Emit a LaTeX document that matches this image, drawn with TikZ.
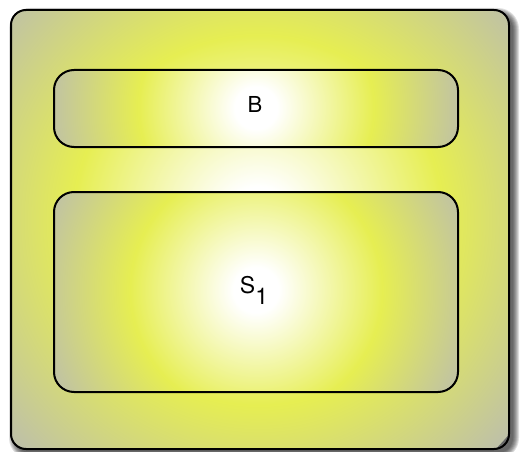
\documentclass[tikz,border=0pt]{standalone}
\usepackage{fontspec}
\setmainfont{TeX Gyre Heros}

\definecolor{glowgray}{RGB}{190,192,168}
\definecolor{glowyellow}{RGB}{230,238,82}
\pgfdeclareradialshading{glow}{\pgfpoint{0bp}{0bp}}{color(0bp)=(white); color(2.5bp)=(white); color(14bp)=(glowyellow); color(25bp)=(glowgray); color(50bp)=(glowgray)}

\tikzset{
  boxline/.style={line width=2pt, black},
  label/.style={anchor=base, inner sep=0pt}
}

\begin{document}
\begin{tikzpicture}[x=1pt, y=-1pt]
  \useasboundingbox (0,0) rectangle (520,452);

  % Shadow
  \foreach \k in {0,...,6}
    \fill[black, opacity=0.12, rounded corners=15pt+\k pt] (15-\k,14-\k) rectangle (513+\k,453+\k);

  % Outer box
  \begin{scope}
    \clip[rounded corners=15pt] (11,10) rectangle (509,449);
    \shade[shading=glow] (258,220) circle (330);
  \end{scope}
  \draw[boxline, rounded corners=15pt] (11,10) rectangle (509,449);

  % Top box
  \begin{scope}
    \clip[rounded corners=20pt] (54,70) rectangle (458,147);
    \shade[shading=glow] (256,108) circle (210);
  \end{scope}
  \draw[boxline, rounded corners=20pt] (54,70) rectangle (458,147);
  \node[label, font=\fontsize{22}{25}\selectfont] (b) at (255,113) {B};

  % Bottom box
  \begin{scope}
    \clip[rounded corners=20pt] (54,192) rectangle (458,392);
    \shade[shading=glow] (256,290) circle (225);
  \end{scope}
  \draw[boxline, rounded corners=20pt] (54,192) rectangle (458,392);
  \node[label, font=\fontsize{23}{26}\selectfont] (s1) at (254,293) {S\raisebox{-11pt}{1}};
\end{tikzpicture}
\end{document}
